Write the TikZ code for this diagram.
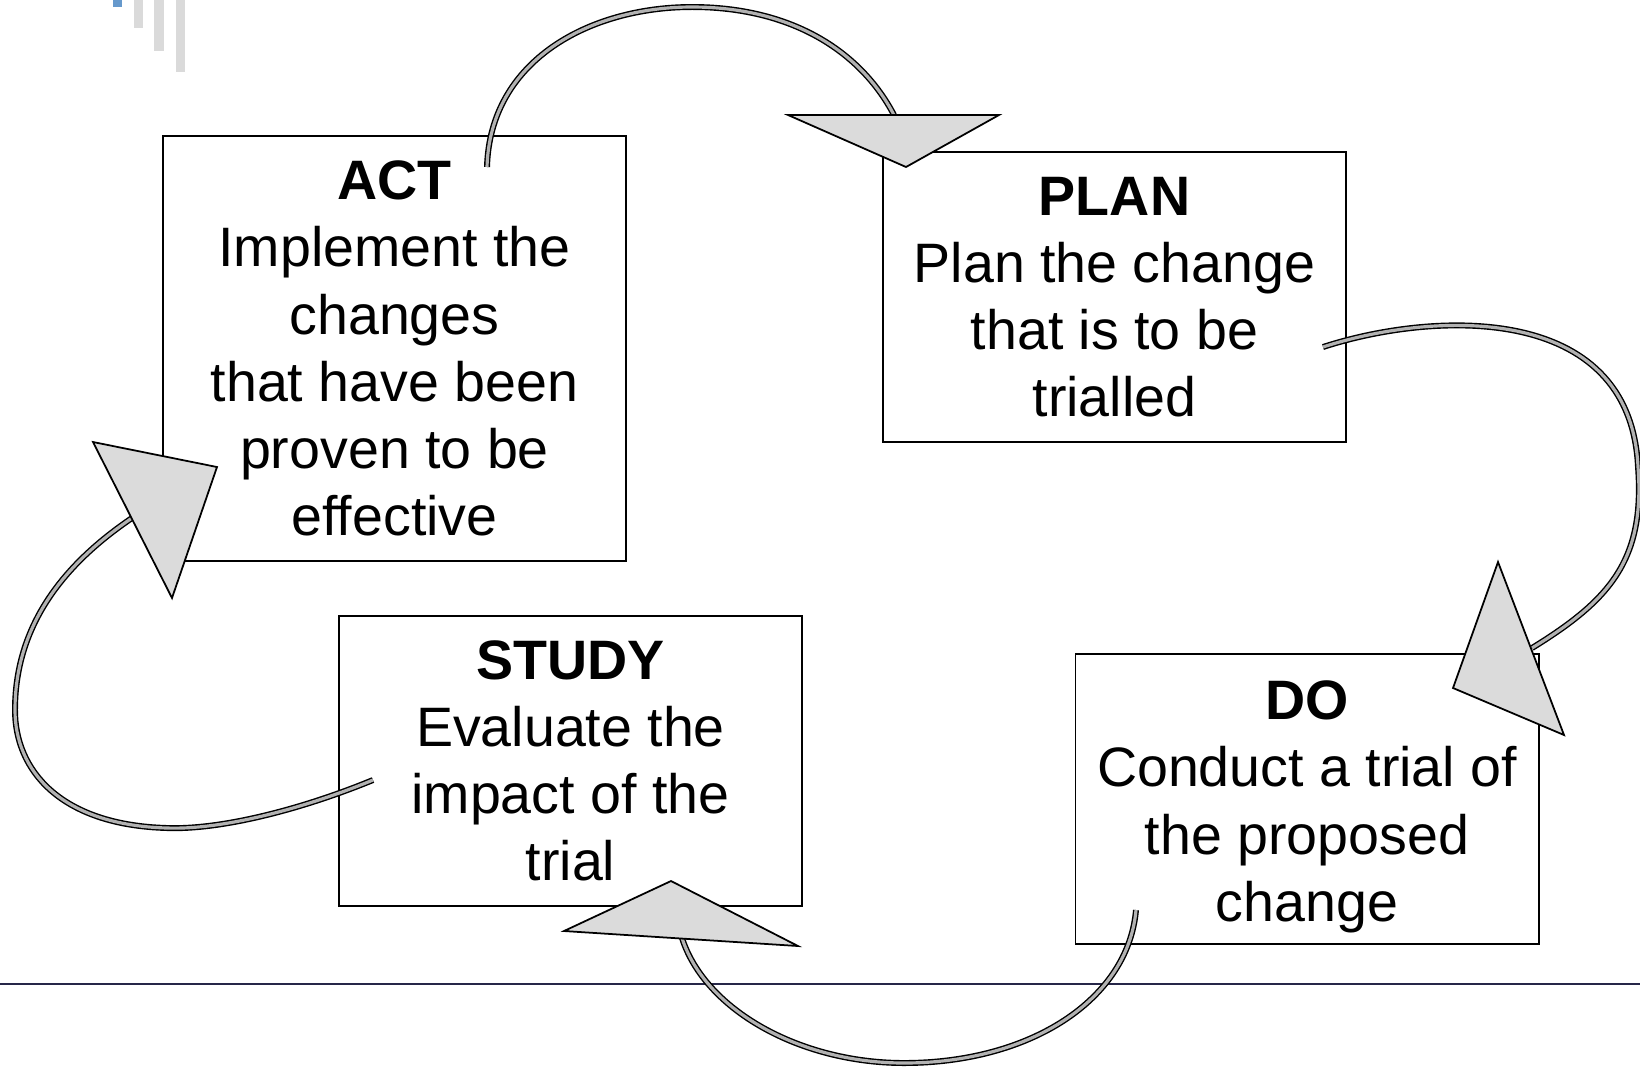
\documentclass[tikz,border=0pt]{standalone}
\usepackage{fontspec}
\setmainfont{Liberation Sans}
\definecolor{rulenavy}{RGB}{38,38,72}
\definecolor{barblue}{RGB}{102,153,204}
\definecolor{bargray}{RGB}{218,218,218}
\tikzset{
  stage/.style={draw, line width=0.5pt, minimum width=4.63cm, minimum height=2.9cm,
    inner sep=0pt, align=center, font=\fontsize{15.8}{19.1}\selectfont},
  tube/.style={draw=black, line width=0.4pt, double=black!30, double distance=0.9pt},
  head/.style={draw, line width=0.5pt, fill=black!14, line join=miter},
}
\begin{document}
\begin{tikzpicture}[x=0.01cm,y=-0.01cm]
      \useasboundingbox (0,0) rectangle (1640,1066);
      \fill[barblue] (113,0) rectangle (122,7);
      \fill[bargray] (134,0) rectangle (143,28);
      \fill[bargray] (154,0) rectangle (164,51);
      \fill[bargray] (176,0) rectangle (185,72);
      \draw[rulenavy, line width=0.75pt] (0,984) -- (1640,984);
      \node[stage, minimum height=4.25cm] (act) at (394.5,348.5)
        {\textbf{ACT}\\Implement the\\changes\\that have been\\proven to be\\effective};
      \node[stage] (plan) at (1114.5,297)
        {\textbf{PLAN}\\Plan the change\\that is to be\\trialled};
      \node[stage] (study) at (570.5,761)
        {\textbf{STUDY}\\Evaluate the\\impact of the\\trial};
      \node[stage] (do) at (1307,799)
        {\rule{0pt}{15.5pt}\textbf{DO}\\Conduct a trial of\\the proposed\\change};
      \coordinate (act-out) at (487,167);
      \coordinate (plan-in) at (894,115);
      \coordinate (plan-out) at (1323,347);
      \coordinate (do-in) at (1532,648);
      \coordinate (do-out) at (1136,910);
      \coordinate (study-in) at (682,938);
      \coordinate (study-out) at (373,780);
      \coordinate (act-in) at (132,518);
      \draw[tube] (act-out) .. controls (490,60) and (590,7) .. (692,7)
        .. controls (790,7) and (860,50) .. (plan-in);
      \draw[tube] (plan-out) .. controls (1430,312) and (1630,300) .. (1638,467)
        .. controls (1645,560) and (1610,600) .. (do-in);
      \draw[tube] (do-out) .. controls (1128,1000) and (1030,1063) .. (904,1063)
        .. controls (800,1063) and (705,1010) .. (study-in);
      \draw[tube] (study-out) .. controls (300,810) and (220,830) .. (167,828)
        .. controls (60,825) and (15,770) .. (15,710)
        .. controls (15,620) and (70,560) .. (act-in);
      \draw[head] (788,115) -- (999,115) -- (906,167) -- cycle;
      \draw[head] (1498,562) -- (1564,735) -- (1453,688) -- cycle;
      \draw[head] (671,881) -- (798,946) -- (564,931) -- cycle;
      \draw[head] (93,442) -- (217,467) -- (172,598) -- cycle;
    \end{tikzpicture}
\end{document}
